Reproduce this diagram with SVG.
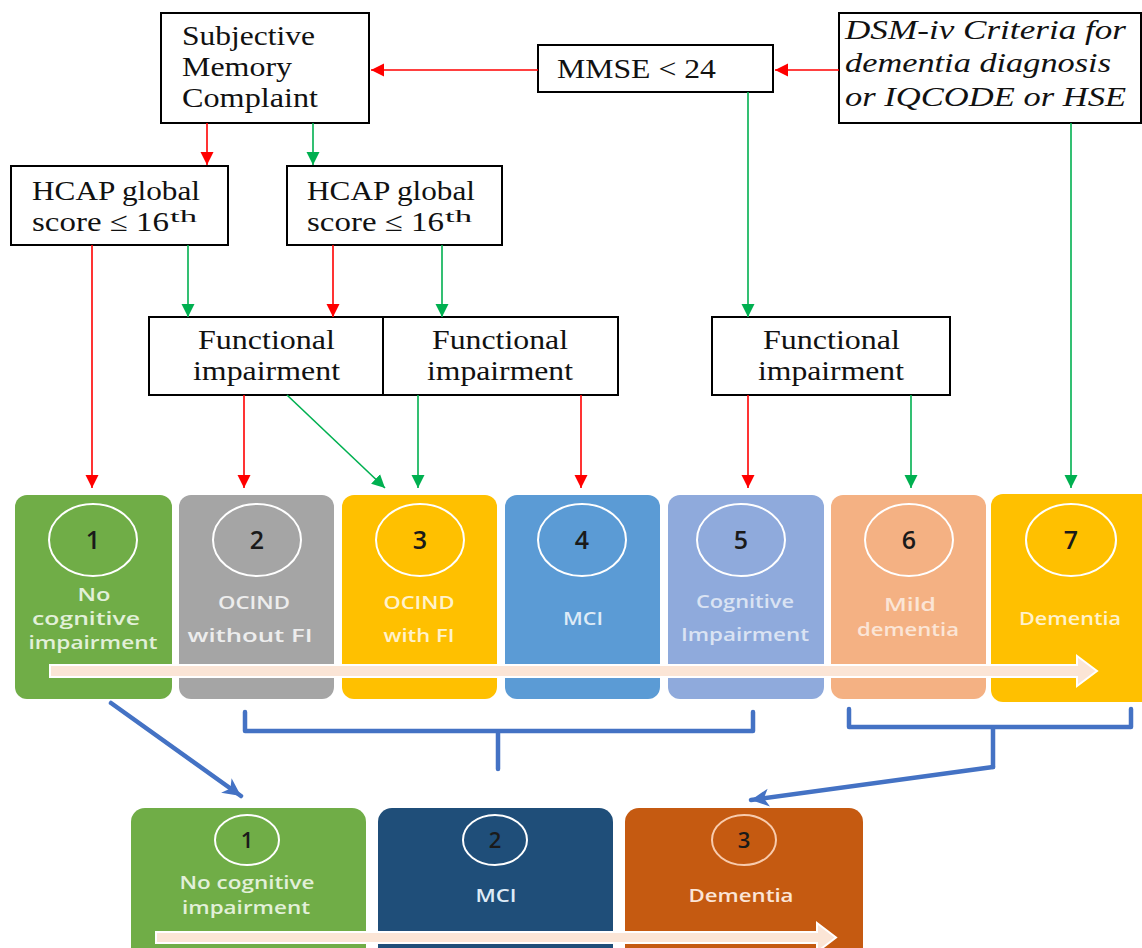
<svg xmlns="http://www.w3.org/2000/svg" width="1142" height="948" viewBox="0 0 1142 948">
<defs>
<style>
.box{fill:#fff;stroke:#000;stroke-width:2}
.st{font-family:"Liberation Serif","Times New Roman",serif;font-size:27px;fill:#111}
.sup{font-size:17px}
.it{font-style:italic}
.red{stroke:#FF0000;stroke-width:1.6;fill:none}
.grn{stroke:#00B050;stroke-width:1.6;fill:none}
.blu{stroke:#4472C4;stroke-width:4.5;fill:none;stroke-linecap:round;stroke-linejoin:round}
.lbl{font-family:"Open Sans","Liberation Sans",sans-serif;font-size:17.5px;font-weight:600;text-anchor:middle}
.num{font-family:"Open Sans","Liberation Sans",sans-serif;font-size:25px;font-weight:600;text-anchor:middle;fill:#1a1a1a}
.nums{font-size:22px}
.ring{fill:none;stroke:#fff;stroke-width:2}
.prog{fill:#FBE5D6;stroke:#fff;stroke-width:2}
</style>
<marker id="ar" markerUnits="userSpaceOnUse" markerWidth="14" markerHeight="14" refX="13" refY="7" orient="auto"><path d="M0,0.5 L13,7 L0,13.5 z" fill="#FF0000"/></marker>
<marker id="ag" markerUnits="userSpaceOnUse" markerWidth="14" markerHeight="14" refX="13" refY="7" orient="auto"><path d="M0,0.5 L13,7 L0,13.5 z" fill="#00B050"/></marker>
<marker id="ab" markerUnits="userSpaceOnUse" markerWidth="22" markerHeight="22" refX="18" refY="10" orient="auto"><path d="M0,1 L18,10 L0,19 L5,10 z" fill="#4472C4"/></marker>
</defs>

<g id="smc">
<rect class="box" x="161" y="13" width="208" height="110"/>
<text class="st" x="182" y="45" textLength="133" lengthAdjust="spacingAndGlyphs">Subjective</text>
<text class="st" x="182" y="76" textLength="110" lengthAdjust="spacingAndGlyphs">Memory</text>
<text class="st" x="182" y="107" textLength="136" lengthAdjust="spacingAndGlyphs">Complaint</text>
</g>
<g id="mmse">
<rect class="box" x="538" y="45" width="235" height="47"/>
<text class="st" x="557" y="78" textLength="159" lengthAdjust="spacingAndGlyphs">MMSE &lt; 24</text>
</g>
<g id="dsm">
<rect class="box" x="839" y="13" width="302" height="110"/>
<text class="st it" x="845" y="39" textLength="281" lengthAdjust="spacingAndGlyphs">DSM-iv Criteria for</text>
<text class="st it" x="845" y="72" textLength="266" lengthAdjust="spacingAndGlyphs">dementia diagnosis</text>
<text class="st it" x="845" y="106" textLength="281" lengthAdjust="spacingAndGlyphs">or IQCODE or HSE</text>
</g>
<g id="hcap1">
<rect class="box" x="11" y="166" width="217" height="79"/>
<text class="st" x="32" y="200" textLength="168" lengthAdjust="spacingAndGlyphs">HCAP global</text>
<text class="st" x="32" y="231" textLength="137" lengthAdjust="spacingAndGlyphs">score ≤ 16</text>
<text class="st sup" x="170" y="222" textLength="27" lengthAdjust="spacingAndGlyphs">th</text>
</g>
<g id="hcap2">
<rect class="box" x="287" y="166" width="215" height="79"/>
<text class="st" x="307" y="200" textLength="168" lengthAdjust="spacingAndGlyphs">HCAP global</text>
<text class="st" x="307" y="231" textLength="137" lengthAdjust="spacingAndGlyphs">score ≤ 16</text>
<text class="st sup" x="445" y="222" textLength="27" lengthAdjust="spacingAndGlyphs">th</text>
</g>
<g id="fi1">
<rect class="box" x="149" y="317" width="234" height="78"/>
<text class="st" x="198" y="349" textLength="137" lengthAdjust="spacingAndGlyphs">Functional</text>
<text class="st" x="193" y="380" textLength="147" lengthAdjust="spacingAndGlyphs">impairment</text>
</g>
<g id="fi2">
<rect class="box" x="383" y="317" width="235" height="78"/>
<text class="st" x="432" y="349" textLength="136" lengthAdjust="spacingAndGlyphs">Functional</text>
<text class="st" x="427" y="380" textLength="146" lengthAdjust="spacingAndGlyphs">impairment</text>
</g>
<g id="fi3">
<rect class="box" x="712" y="317" width="238" height="78"/>
<text class="st" x="763" y="349" textLength="137" lengthAdjust="spacingAndGlyphs">Functional</text>
<text class="st" x="758" y="380" textLength="146" lengthAdjust="spacingAndGlyphs">impairment</text>
</g>

<g id="s1">
<rect x="15" y="495" width="157" height="204" rx="12" fill="#70AD47"/>
<ellipse class="ring" cx="93" cy="540" rx="44" ry="36"/>
<text class="num" x="93" y="549">1</text>
<text class="lbl" fill="#E2F0D9" x="94" y="601" textLength="33" lengthAdjust="spacingAndGlyphs">No</text>
<text class="lbl" fill="#E2F0D9" x="86" y="625" textLength="108" lengthAdjust="spacingAndGlyphs">cognitive</text>
<text class="lbl" fill="#E2F0D9" x="93" y="649" textLength="129" lengthAdjust="spacingAndGlyphs">impairment</text>
</g>
<g id="s2">
<rect x="179" y="495" width="155" height="204" rx="12" fill="#A5A5A5"/>
<ellipse class="ring" cx="257" cy="540" rx="44" ry="36"/>
<text class="num" x="257" y="549">2</text>
<text class="lbl" fill="#EDEDED" x="254" y="609" textLength="72" lengthAdjust="spacingAndGlyphs">OCIND</text>
<text class="lbl" fill="#EDEDED" x="250" y="642" textLength="125" lengthAdjust="spacingAndGlyphs">without FI</text>
</g>
<g id="s3">
<rect x="342" y="495" width="155" height="204" rx="12" fill="#FFC000"/>
<ellipse class="ring" cx="420" cy="540" rx="44" ry="36"/>
<text class="num" x="420" y="549">3</text>
<text class="lbl" fill="#FFF2CC" x="419" y="609" textLength="71" lengthAdjust="spacingAndGlyphs">OCIND</text>
<text class="lbl" fill="#FFF2CC" x="419" y="642" textLength="71" lengthAdjust="spacingAndGlyphs">with FI</text>
</g>
<g id="s4">
<rect x="505" y="495" width="155" height="204" rx="12" fill="#5B9BD5"/>
<ellipse class="ring" cx="582" cy="540" rx="44" ry="36"/>
<text class="num" x="582" y="549">4</text>
<text class="lbl" fill="#DEEBF7" x="583" y="625" textLength="40" lengthAdjust="spacingAndGlyphs">MCI</text>
</g>
<g id="s5">
<rect x="668" y="495" width="156" height="204" rx="12" fill="#8FAADC"/>
<ellipse class="ring" cx="741" cy="540" rx="44" ry="36"/>
<text class="num" x="741" y="549">5</text>
<text class="lbl" fill="#DAE3F3" x="745" y="608" textLength="98" lengthAdjust="spacingAndGlyphs">Cognitive</text>
<text class="lbl" fill="#DAE3F3" x="745" y="641" textLength="128" lengthAdjust="spacingAndGlyphs">Impairment</text>
</g>
<g id="s6">
<rect x="831" y="495" width="155" height="204" rx="12" fill="#F4B183"/>
<ellipse class="ring" cx="909" cy="540" rx="44" ry="36"/>
<text class="num" x="909" y="549">6</text>
<text class="lbl" fill="#FBE5D6" x="910" y="611" textLength="52" lengthAdjust="spacingAndGlyphs">Mild</text>
<text class="lbl" fill="#FBE5D6" x="908" y="636" textLength="102" lengthAdjust="spacingAndGlyphs">dementia</text>
</g>
<g id="s7">
<rect x="991" y="494" width="165" height="208" rx="12" fill="#FFC000"/>
<ellipse class="ring" cx="1071" cy="540" rx="45" ry="36"/>
<text class="num" x="1071" y="549">7</text>
<text class="lbl" fill="#FFF2CC" x="1070" y="625" textLength="102" lengthAdjust="spacingAndGlyphs">Dementia</text>
</g>
<polygon id="prog1" class="prog" points="50,665 1077,665 1077,656 1097,671 1077,686 1077,677 50,677"/>

<g id="b1">
<rect x="131" y="808" width="235" height="160" rx="14" fill="#70AD47"/>
<ellipse class="ring" cx="247" cy="840" rx="32" ry="25"/>
<text class="num nums" x="247" y="848">1</text>
<text class="lbl" fill="#E2F0D9" x="247" y="889" textLength="135" lengthAdjust="spacingAndGlyphs">No cognitive</text>
<text class="lbl" fill="#E2F0D9" x="246" y="914" textLength="128" lengthAdjust="spacingAndGlyphs">impairment</text>
</g>
<g id="b2">
<rect x="378" y="808" width="235" height="160" rx="14" fill="#1F4E79"/>
<ellipse class="ring" cx="495" cy="840" rx="32" ry="25"/>
<text class="num nums" x="495" y="848">2</text>
<text class="lbl" fill="#DEEBF7" x="496" y="902" textLength="41" lengthAdjust="spacingAndGlyphs">MCI</text>
</g>
<g id="b3">
<rect x="625" y="808" width="238" height="160" rx="14" fill="#C55A11"/>
<ellipse class="ring" cx="744" cy="840" rx="32" ry="25" style="stroke:#F8CBAD"/>
<text class="num nums" x="744" y="848">3</text>
<text class="lbl" fill="#FBE5D6" x="741" y="902" textLength="105" lengthAdjust="spacingAndGlyphs">Dementia</text>
</g>
<polygon id="prog2" class="prog" points="156,932 817,932 817,923 836,937.5 817,952 817,943 156,943"/>

<g id="connectors">
<line class="red" x1="538" y1="70" x2="371" y2="70" marker-end="url(#ar)"/>
<line class="red" x1="839" y1="70" x2="775" y2="70" marker-end="url(#ar)"/>
<line class="red" x1="207" y1="123" x2="207" y2="165" marker-end="url(#ar)"/>
<line class="grn" x1="313" y1="123" x2="313" y2="165" marker-end="url(#ag)"/>
<line class="red" x1="92" y1="245" x2="92" y2="488" marker-end="url(#ar)"/>
<line class="grn" x1="188" y1="245" x2="188" y2="317" marker-end="url(#ag)"/>
<line class="red" x1="333" y1="245" x2="333" y2="317" marker-end="url(#ar)"/>
<line class="grn" x1="442" y1="245" x2="442" y2="317" marker-end="url(#ag)"/>
<line class="grn" x1="748" y1="92" x2="748" y2="317" marker-end="url(#ag)"/>
<line class="red" x1="244" y1="395" x2="244" y2="488" marker-end="url(#ar)"/>
<line class="grn" x1="287" y1="395" x2="385" y2="488" marker-end="url(#ag)"/>
<line class="grn" x1="418" y1="395" x2="418" y2="488" marker-end="url(#ag)"/>
<line class="red" x1="581" y1="395" x2="581" y2="488" marker-end="url(#ar)"/>
<line class="red" x1="748" y1="395" x2="748" y2="488" marker-end="url(#ar)"/>
<line class="grn" x1="911" y1="395" x2="911" y2="488" marker-end="url(#ag)"/>
<line class="grn" x1="1071" y1="123" x2="1071" y2="488" marker-end="url(#ag)"/>
<path class="blu" d="M245,712 V731 H753 V712 M498,731 V769"/>
<path class="blu" d="M849,709 V727 H1131 V709 M993,727 V767"/>
<line class="blu" x1="111" y1="703" x2="241" y2="796" marker-end="url(#ab)"/>
<line class="blu" x1="993" y1="767" x2="751" y2="800" marker-end="url(#ab)"/>
</g>
</svg>
